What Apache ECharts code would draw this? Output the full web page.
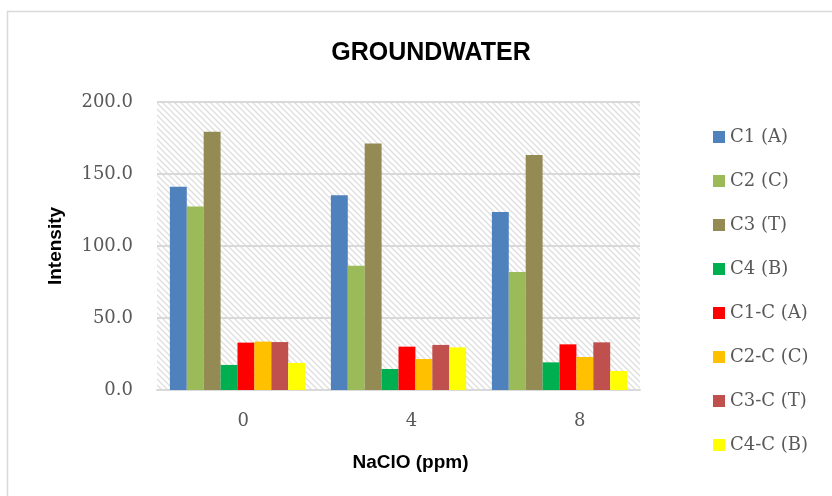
<!DOCTYPE html>
<html>
<head>
<meta charset="utf-8">
<script src="https://cdn.jsdelivr.net/npm/echarts@6/dist/echarts.min.js"></script>
<style>
  html, body { margin: 0; padding: 0; background: #fff; }
  #chart { width: 832px; height: 496px; }
</style>
</head>
<body>
<div id="chart"></div>
<script>
// data
var categories = ['0', '4', '8'];
var seriesNames = ['C1 (A)', 'C2 (C)', 'C3 (T)', 'C4 (B)', 'C1-C (A)', 'C2-C (C)', 'C3-C (T)', 'C4-C (B)'];
var c1A  = [141.2, 135.2, 123.6];
var c2C  = [127.5, 86.3, 81.9];
var c3T  = [179.4, 171.1, 163.2];
var c4B  = [17.4, 14.6, 19.2];
var c1cA = [32.9, 30.1, 31.7];
var c2cC = [33.6, 21.5, 22.9];
var c3cT = [33.3, 31.3, 33.1];
var c4cB = [18.8, 29.6, 13.2];
var yTicks = [0, 50, 100, 150, 200];

var colors = ['#4F81BD', '#9BBB59', '#948A54', '#00B050', '#FF0000', '#FFC000', '#C0504D', '#FFFF00'];
var values = [c1A, c2C, c3T, c4B, c1cA, c2cC, c3cT, c4cB];

// hatched plot background
var hatch = document.createElement('canvas');
hatch.width = 6; hatch.height = 6;
var hc = hatch.getContext('2d');
hc.fillStyle = '#fff';
hc.fillRect(0, 0, 6, 6);
hc.strokeStyle = '#dedede';
hc.lineWidth = 1.3;
hc.beginPath();
hc.moveTo(-1, -1); hc.lineTo(7, 7);
hc.moveTo(-4, 2); hc.lineTo(4, 10);
hc.moveTo(2, -4); hc.lineTo(10, 4);
hc.stroke();

var chart = echarts.init(document.getElementById('chart'), null, { renderer: 'canvas' });

var series = seriesNames.map(function (n, i) {
  return {
    name: n,
    type: 'bar',
    xAxisIndex: 0,
    yAxisIndex: 0,
    data: values[i],
    barGap: '0%',
    barCategoryGap: '16%',
    itemStyle: { color: colors[i] }
  };
});

var option = {
  animation: false,
  backgroundColor: '#fff',
  title: {
    text: 'GROUNDWATER',
    left: 426,
    top: 36,
    textAlign: 'center',
    textStyle: { fontFamily: 'Liberation Sans', fontWeight: 'bold', fontSize: 25, color: '#000' }
  },
  graphic: [{
    type: 'rect',
    shape: { x: 7.5, y: 11.5, width: 900, height: 600 },
    style: { fill: 'none', stroke: '#d9d9d9', lineWidth: 1.5 },
    silent: true
  }],
  legend: {
    orient: 'vertical',
    left: 708,
    top: 123,
    itemWidth: 12,
    itemHeight: 12,
    itemGap: 26,
    icon: 'rect',
    textStyle: { fontFamily: 'DejaVu Serif', fontSize: 18, color: '#595959' },
    data: seriesNames
  },
  grid: [
    { left: 157, right: 192, top: 102, bottom: 106, show: true, borderWidth: 0,
      backgroundColor: { image: hatch, repeat: 'repeat' } },
    { left: 159, width: 505, top: 102, bottom: 106 }
  ],
  xAxis: [{
    type: 'category',
    gridIndex: 0,
    data: categories,
    name: 'NaClO (ppm)',
    nameLocation: 'middle',
    nameGap: 63,
    nameTextStyle: { fontFamily: 'Liberation Sans', fontWeight: 'bold', fontSize: 19, color: '#000', padding: [0, 0, 0, 24] },
    axisLine: { lineStyle: { color: '#d9d9d9', width: 2 } },
    axisTick: { show: false },
    axisLabel: { show: false }
  }, {
    type: 'category',
    gridIndex: 1,
    data: categories,
    axisLine: { show: false },
    axisTick: { show: false },
    splitLine: { show: false },
    axisLabel: { margin: 22, fontFamily: 'DejaVu Serif', fontSize: 18, color: '#595959' }
  }],
  yAxis: [{
    type: 'value',
    gridIndex: 0,
    min: yTicks[0],
    max: yTicks[yTicks.length - 1],
    interval: 50,
    name: 'Intensity',
    nameLocation: 'middle',
    nameGap: 92,
    nameTextStyle: { fontFamily: 'Liberation Sans', fontWeight: 'bold', fontSize: 19, color: '#000' },
    axisLine: { show: false },
    axisTick: { show: false },
    splitLine: { lineStyle: { color: '#d9d9d9', width: 2 } },
    axisLabel: {
      margin: 24,
      fontFamily: 'DejaVu Serif', fontSize: 18, color: '#595959',
      formatter: function (v) { return v.toFixed(1); }
    }
  }, {
    type: 'value',
    gridIndex: 1,
    min: 0, max: 200,
    show: false
  }],
  series: series
};

chart.setOption(option);
</script>
</body>
</html>
